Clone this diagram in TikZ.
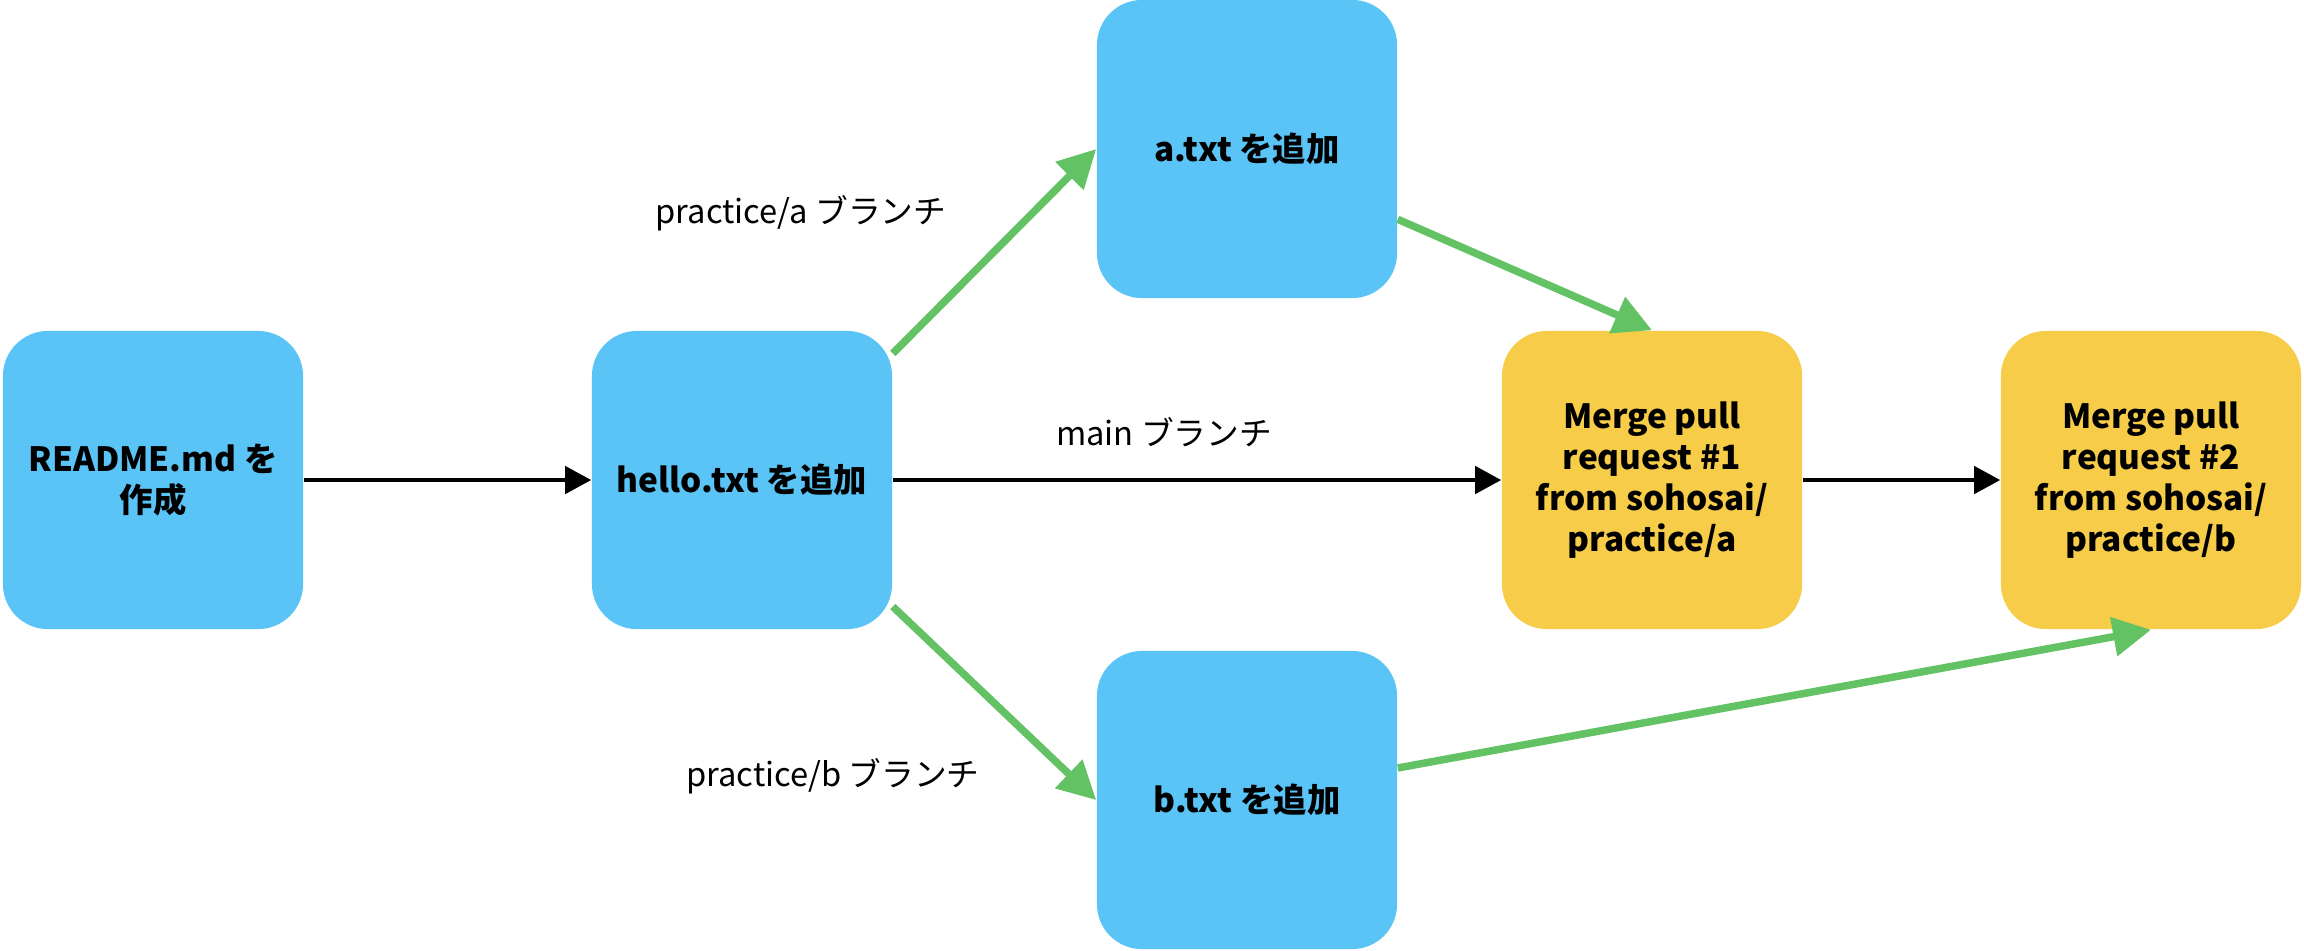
\documentclass[tikz,border=0pt]{standalone}
\usepackage{fontspec}
\setmainfont{Noto Sans CJK JP}
\usetikzlibrary{arrows.meta}
\definecolor{commitblue}{HTML}{5AC4F6}
\definecolor{mergeyellow}{HTML}{F6CC48}
\definecolor{branchgreen}{HTML}{62C264}

\begin{document}
\begin{tikzpicture}[x=0.01cm,y=-0.01cm,
  commit/.style={fill=commitblue,rounded corners=0.45cm,minimum width=3cm,minimum height=2.98cm,
    inner sep=0pt,align=center,font=\fontsize{9.5}{11.7}\selectfont\bfseries},
  merge/.style={commit,fill=mergeyellow},
  lbl/.style={font=\fontsize{9.3}{11.7}\selectfont},
  mainline/.style={-{Triangle[length=0.26cm,width=0.27cm]},line width=0.045cm,black},
  branchline/.style={-{Triangle[length=0.38cm,width=0.38cm]},line width=0.075cm,branchgreen}]
\useasboundingbox (0,0) rectangle (2304,950);

\node[commit] (readme) at (153,480) {README.md を\\作成};
\node[commit] (hello) at (742,480) {hello.txt を追加};
\node[commit] (atxt) at (1247,149) {a.txt を追加};
\node[commit] (btxt) at (1247,800) {b.txt を追加};
\node[merge] (merge1) at (1652,480) {Merge pull\\request \#1\\from sohosai/\\practice/a};
\node[merge] (merge2) at (2151,480) {Merge pull\\request \#2\\from sohosai/\\practice/b};

\node[lbl] (lbla) at (801,213) {practice/a ブランチ};
\node[lbl] (lblmain) at (1164,432) {main ブランチ};
\node[lbl] (lblb) at (833,776) {practice/b ブランチ};

\draw[mainline] (readme) -- (hello);
\draw[mainline] (hello) -- (merge1);
\draw[mainline] (merge1) -- (merge2);

\draw[branchline] (hello.40) -- (atxt.west);
\draw[branchline] (hello.-40) -- (btxt.west);
\draw[branchline] (atxt.-25) -- (merge1.north);
\draw[branchline] (btxt.12) -- (merge2.south);
\end{tikzpicture}
\end{document}
